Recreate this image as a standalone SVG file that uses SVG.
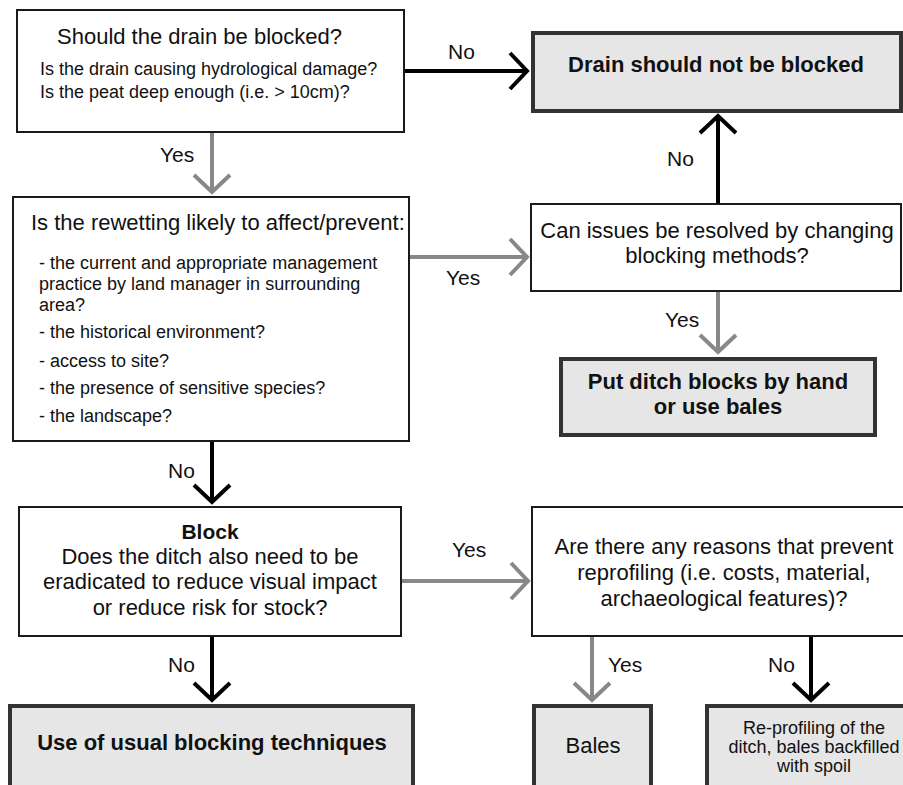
<svg xmlns="http://www.w3.org/2000/svg" width="903" height="785" viewBox="0 0 903 785">
<defs>
<style>
text{font-family:"Liberation Sans",Arial,sans-serif;fill:#111}
.q{fill:#fff;stroke:#1a1a1a;stroke-width:2}
.r{fill:#e6e6e6;stroke:#333;stroke-width:4}
.t22{font-size:22px}
.t18{font-size:18px}
.b{font-weight:bold}
.m{text-anchor:middle}
.lbl{font-size:21px}
.ck{fill:none;stroke:#000;stroke-width:4}
.cg{fill:none;stroke:#888;stroke-width:4}
</style>
<marker id="ak" markerUnits="userSpaceOnUse" markerWidth="40" markerHeight="40" viewBox="-24 -20 28 40" refX="0" refY="0" orient="auto" overflow="visible">
<path d="M-17,-18 L0,0 L-17,18" fill="none" stroke="#000" stroke-width="4"/>
</marker>
<marker id="ag" markerUnits="userSpaceOnUse" markerWidth="40" markerHeight="40" viewBox="-24 -20 28 40" refX="0" refY="0" orient="auto" overflow="visible">
<path d="M-17,-18 L0,0 L-17,18" fill="none" stroke="#888" stroke-width="4"/>
</marker>
</defs>
<rect width="903" height="785" fill="#fff"/>

<g id="connectors">
<line class="ck" x1="404" y1="71" x2="527" y2="71" marker-end="url(#ak)"/>
<line class="cg" x1="212" y1="132" x2="212" y2="192" marker-end="url(#ag)"/>
<line class="cg" x1="409" y1="257" x2="527" y2="257" marker-end="url(#ag)"/>
<line class="ck" x1="718" y1="204" x2="718" y2="116" marker-end="url(#ak)"/>
<line class="cg" x1="718" y1="291" x2="718" y2="352" marker-end="url(#ag)"/>
<line class="ck" x1="212" y1="441" x2="212" y2="502" marker-end="url(#ak)"/>
<line class="ck" x1="212" y1="636" x2="212" y2="700" marker-end="url(#ak)"/>
<line class="cg" x1="401" y1="581" x2="528" y2="581" marker-end="url(#ag)"/>
<line class="cg" x1="592" y1="636" x2="592" y2="700" marker-end="url(#ag)"/>
<line class="ck" x1="811" y1="636" x2="811" y2="700" marker-end="url(#ak)"/>
<text class="lbl" x="448" y="59">No</text>
<text class="lbl" x="160" y="162">Yes</text>
<text class="lbl" x="446" y="285">Yes</text>
<text class="lbl" x="667" y="166">No</text>
<text class="lbl" x="665" y="327">Yes</text>
<text class="lbl" x="168" y="478">No</text>
<text class="lbl" x="168" y="672">No</text>
<text class="lbl" x="452" y="557">Yes</text>
<text class="lbl" x="608" y="672">Yes</text>
<text class="lbl" x="768" y="672">No</text>
</g>

<g id="should-block">
<rect class="q" x="17" y="10" width="387" height="122"/>
<text class="t22" x="57" y="44">Should the drain be blocked?</text>
<text class="t18" x="40" y="75">Is the drain causing hydrological damage?</text>
<text class="t18" x="40" y="98">Is the peat deep enough (i.e. &gt; 10cm)?</text>
</g>

<g id="not-blocked">
<rect class="r" x="533" y="33" width="368" height="78"/>
<text class="t22 b m" x="716" y="72">Drain should not be blocked</text>
</g>

<g id="rewetting">
<rect class="q" x="13" y="197" width="396" height="244"/>
<text class="t22" x="31" y="230">Is the rewetting likely to affect/prevent:</text>
<text class="t18" x="39" y="269">- the current and appropriate management</text>
<text class="t18" x="39" y="290">practice by land manager in surrounding</text>
<text class="t18" x="39" y="311">area?</text>
<text class="t18" x="39" y="338">- the historical environment?</text>
<text class="t18" x="39" y="367">- access to site?</text>
<text class="t18" x="39" y="394">- the presence of sensitive species?</text>
<text class="t18" x="39" y="422">- the landscape?</text>
</g>

<g id="change-methods">
<rect class="q" x="531" y="204" width="370" height="87"/>
<text class="t22 m" x="717" y="238">Can issues be resolved by changing</text>
<text class="t22 m" x="717" y="263">blocking methods?</text>
</g>

<g id="by-hand">
<rect class="r" x="561" y="359" width="314" height="76"/>
<text class="t22 b m" x="718" y="389">Put ditch blocks by hand</text>
<text class="t22 b m" x="718" y="414">or use bales</text>
</g>

<g id="block">
<rect class="q" x="19" y="507" width="382" height="129"/>
<text class="b m" style="font-size:21px" x="210" y="539">Block</text>
<text class="t22 m" x="210" y="564">Does the ditch also need to be</text>
<text class="t22 m" x="210" y="589">eradicated to reduce visual impact</text>
<text class="t22 m" x="210" y="615">or reduce risk for stock?</text>
</g>

<g id="usual">
<rect class="r" x="10" y="706" width="403" height="100"/>
<text class="t22 b m" x="212" y="750">Use of usual blocking techniques</text>
</g>

<g id="reprofiling-reasons">
<rect class="q" x="532" y="507" width="400" height="129"/>
<text class="t22 m" x="724" y="554">Are there any reasons that prevent</text>
<text class="t22 m" x="724" y="580">reprofiling (i.e. costs, material,</text>
<text class="t22 m" x="724" y="606">archaeological features)?</text>
</g>

<g id="bales">
<rect class="r" x="534" y="706" width="117" height="100"/>
<text class="t22 m" x="593" y="753">Bales</text>
</g>

<g id="reprofile">
<rect class="r" x="707" y="706" width="220" height="100"/>
<text class="t18 m" x="814" y="734">Re-profiling of the</text>
<text class="t18 m" x="814" y="753">ditch, bales backfilled</text>
<text class="t18 m" x="814" y="772">with spoil</text>
</g>
</svg>
